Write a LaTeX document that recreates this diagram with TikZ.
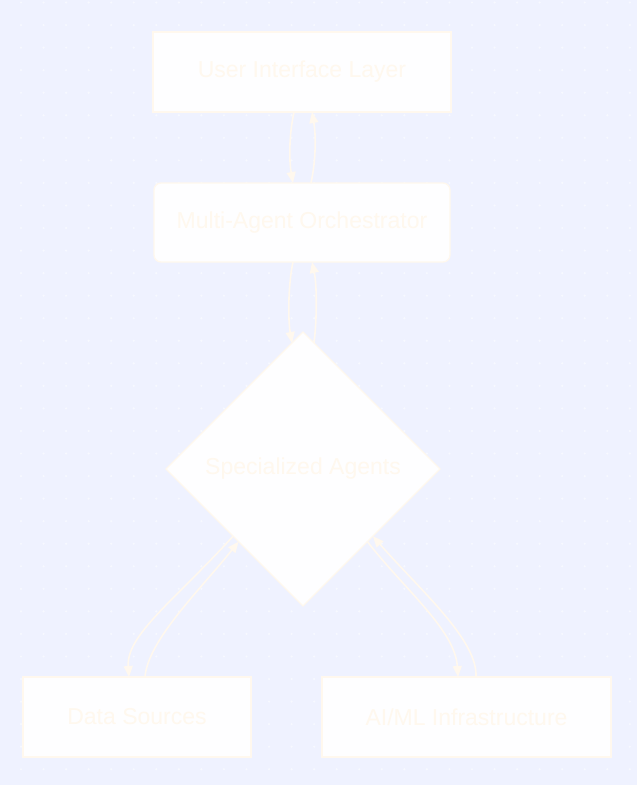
\documentclass[tikz,border=0pt]{standalone}
\usepackage{fontspec}
\setmainfont{Liberation Sans}
\usetikzlibrary{shapes.geometric,arrows.meta,calc}
\definecolor{bgcol}{RGB}{239,242,255}
\definecolor{dotcol}{RGB}{247,249,255}
\definecolor{cream}{RGB}{255,248,238}
\definecolor{boxfill}{RGB}{254,254,255}
\tikzset{
  box/.style={draw=cream, fill=boxfill, line width=1.3pt, text=cream, inner sep=0pt, outer sep=0pt,
    font=\fontsize{23}{27}\selectfont},
  rbox/.style={box, rounded corners=7pt},
  dia/.style={box, diamond, aspect=1},
  link/.style={draw=cream, line width=1.6pt, -{Triangle[length=11pt,width=9pt]}}
}
\begin{document}
\begin{tikzpicture}[x=1pt,y=-1pt]
\fill[bgcol] (0,0) rectangle (637,785);
\useasboundingbox (0,0) rectangle (637,785);
\foreach \i in {0,...,28}{
  \foreach \j in {0,...,34}{
    \fill[dotcol] (21+22.55*\i, 2.5+22.55*\j) circle (1.2pt);
  }
}
\node[box, minimum width=298pt, minimum height=80pt] (ui) at (302,72) {User Interface Layer};
\node[rbox, minimum width=296pt, minimum height=79pt] (orch) at (302,222.5) {Multi-Agent Orchestrator};
\node[dia, minimum width=274pt, minimum height=274pt] (sa) at (303,469) {Specialized Agents};
\node[box, minimum width=228pt, minimum height=80pt] (ds) at (137,717) {Data Sources};
\node[box, minimum width=289pt, minimum height=80pt] (ai) at (466.5,717) {AI/ML Infrastructure};

% anchor points
\coordinate (uiA) at ([xshift=-8pt]ui.south);
\coordinate (uiB) at ([xshift=10pt]ui.south);
\coordinate (orA) at ([xshift=-9pt]orch.north);
\coordinate (orB) at ([xshift=9pt]orch.north);
\coordinate (orC) at ([xshift=-9pt]orch.south);
\coordinate (orD) at ([xshift=10pt]orch.south);
\coordinate (saA) at ($(sa.north)!0.08!(sa.west)$);
\coordinate (saB) at ($(sa.north)!0.08!(sa.east)$);
\coordinate (saC) at ($(sa.west)!0.49!(sa.south)$);
\coordinate (saD) at ($(sa.west)!0.53!(sa.south)$);
\coordinate (saE) at ($(sa.east)!0.53!(sa.south)$);
\coordinate (saF) at ($(sa.east)!0.49!(sa.south)$);
\coordinate (dsA) at ([xshift=-8pt]ds.north);
\coordinate (dsB) at ([xshift=8pt]ds.north);
\coordinate (aiA) at ([xshift=-8.5pt]ai.north);
\coordinate (aiB) at ([xshift=9.5pt]ai.north);

\path[link] (uiA) .. controls (289,135) and (289,160) .. (orA);
\path[link] (orB) .. controls (316,160) and (316,135) .. (uiB);
\path[link] (orC) .. controls (288,285) and (288,320) .. (saA);
\path[link] (saB) .. controls (317,320) and (317,285) .. (orD);
\path[link] (saC) .. controls (175,600) and (126,635) .. (dsA);
\path[link] (dsB) .. controls (148,640) and (200,590) .. (saD);
\path[link] (saE) .. controls (405,590) and (455,630) .. (aiA);
\path[link] (aiB) .. controls (478,640) and (420,590) .. (saF);
\end{tikzpicture}
\end{document}
